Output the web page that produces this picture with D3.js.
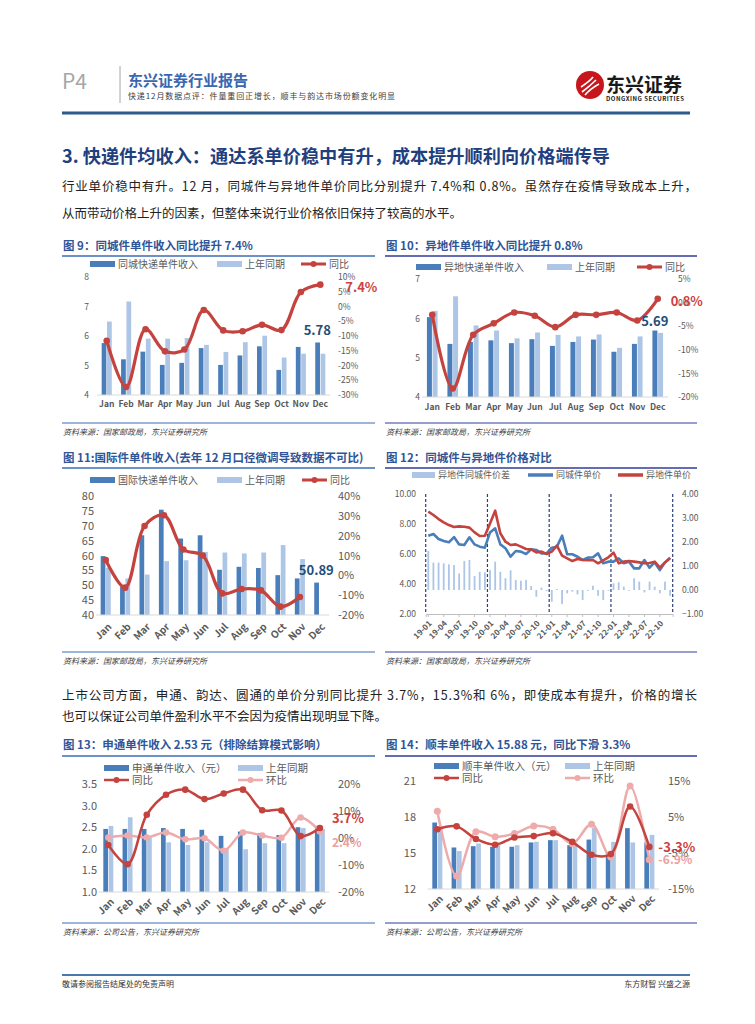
<!DOCTYPE html>
<html>
<head>
<meta charset="utf-8">
<script src="https://cdn.jsdelivr.net/npm/d3@7"></script>
<style>
body { margin: 0; background: #fff; }
svg { display: block; }
text { font-family: "Noto Sans CJK SC", "Noto Sans", sans-serif; }
</style>
</head>
<body>
<svg id="page" width="755" height="1024"></svg>
<script>
// ---- data ----
var months = ["Jan", "Feb", "Mar", "Apr", "May", "Jun", "Jul", "Aug", "Sep", "Oct", "Nov", "Dec"];

// fig 9 同城件
var c9Cur = [5.76, 5.21, 5.47, 5.02, 5.09, 5.59, 5.02, 5.34, 5.65, 4.85, 5.63, 5.78];
var c9Prev = [6.49, 7.17, 5.91, 5.91, 5.93, 5.70, 5.46, 5.79, 6.01, 5.27, 5.40, 5.40];
var c9Yoy = [-11.6, -27.3, -7.7, -15.2, -14.6, -1.2, -8.1, -8.4, -6.2, -8.0, 4.9, 7.4];

// fig 10 异地件
var c10Cur = [6.03, 5.35, 5.40, 5.44, 5.37, 5.47, 5.30, 5.40, 5.46, 5.15, 5.35, 5.69];
var c10Prev = [6.19, 6.56, 5.82, 5.69, 5.49, 5.64, 5.58, 5.54, 5.59, 5.25, 5.54, 5.63];
var c10Yoy = [-2.6, -18.2, -6.8, -4.4, -2.1, -2.8, -5.2, -2.6, -2.6, -2.1, -3.8, 0.8];

// fig 11 国际件
var c11Cur = [59.8, 49.5, 66.8, 75.4, 65.7, 66.8, 55.2, 56.2, 55.8, 53.4, 52.3, 50.89];
var c11Prev = [55.9, 52.3, 53.6, 58.1, 58.4, 61.2, 61.0, 60.7, 61.0, 63.5, 58.8, null];
var c11Yoy = [7.7, -6.2, 24.9, 30.3, 13.0, 10.0, -9.1, -6.9, -7.6, -15.8, -10.9, null];

// fig 12 同城件与异地件
var c12Periods = [
  "19-01", "19-02", "19-03", "19-04", "19-05", "19-06", "19-07", "19-08", "19-09", "19-10", "19-11", "19-12",
  "20-01", "20-02", "20-03", "20-04", "20-05", "20-06", "20-07", "20-08", "20-09", "20-10", "20-11", "20-12",
  "21-01", "21-02", "21-03", "21-04", "21-05", "21-06", "21-07", "21-08", "21-09", "21-10", "21-11", "21-12",
  "22-01", "22-02", "22-03", "22-04", "22-05", "22-06", "22-07", "22-08", "22-09", "22-10", "22-11", "22-12"];
var c12Ticks = ["19-01", "19-04", "19-07", "19-10", "20-01", "20-04", "20-07", "20-10",
  "21-01", "21-04", "21-07", "21-10", "22-01", "22-04", "22-07", "22-10"];
var c12YearStarts = ["19-01", "20-01", "21-01", "22-01"];
var c12Local = [7.22, 7.33, 7.00, 6.87, 6.78, 7.13, 6.64, 6.60, 7.11, 6.64, 6.49, 6.42,
  7.44, 7.71, 6.64, 6.38, 5.82, 6.20, 6.16, 6.00, 6.31, 6.27, 6.04, 6.04,
  6.42, 6.49, 7.22, 5.98, 5.98, 5.82, 5.60, 5.76, 5.78, 6.04, 5.38, 5.49,
  5.49, 5.71, 5.38, 5.49, 5.04, 5.04, 5.60, 5.09, 5.44, 4.93, 5.44, 5.76];
var c12Remote = [8.82, 8.60, 8.33, 8.11, 7.93, 7.80, 7.84, 7.82, 7.76, 7.44, 7.20, 7.22,
  8.04, 8.89, 7.38, 6.82, 6.60, 6.64, 6.49, 6.33, 6.31, 6.11, 6.16, 6.00,
  6.16, 6.56, 5.89, 5.71, 5.53, 5.67, 5.60, 5.58, 5.60, 5.38, 5.58, 5.78,
  6.09, 5.38, 5.49, 5.53, 5.49, 5.44, 5.38, 5.40, 5.49, 5.09, 5.44, 5.71];
var c12Gap = [1.63, 1.14, 1.14, 1.11, 1.07, 1.04, 0.69, 1.21, 1.25, 0.58, 0.76, 0.74,
  0.83, 1.18, 0.76, 0.49, 0.82, 0.42, 0.39, 0.42, 0.17, -0.28, 0.10, -0.04,
  -0.49, 0.04, -0.58, -0.14, -0.07, -0.18, -0.42, -0.04, 0.18, -0.24, -0.42, -0.03,
  0.28, 0.32, 0.14, -0.03, 0.49, 0.35, -0.10, 0.35, 0.14, -0.14, 0.35, -0.24];

// fig 13 申通
var c13Cur = [2.46, 2.46, 2.46, 2.48, 2.46, 2.44, 2.30, 2.40, 2.36, 2.32, 2.50, 2.53];
var c13Prev = [2.53, 2.73, 2.25, 2.15, 2.09, 2.15, 2.00, 1.99, 2.13, 2.13, 2.48, 2.46];
var c13Yoy = [-2.6, -9.7, 8.6, 16.0, 17.9, 14.4, 16.5, 17.9, 10.3, 10.2, 0.7, 3.7];
var c13Mom = [0.2, 0.9, 0.2, 2.0, -0.5, -0.1, -4.7, 2.0, 0.9, 0.1, 7.6, 2.4];

// fig 14 顺丰
var c14Cur = [17.54, 15.46, 15.57, 15.52, 15.52, 15.88, 16.07, 15.65, 16.12, 15.07, 17.07, 15.88];
var c14Prev = [17.12, 15.16, 15.79, 15.65, 15.65, 15.93, 16.07, 15.79, 17.09, 15.93, 15.88, 16.51];
var c14Yoy = [1.6, 2.4, -1.1, -2.7, -0.7, -0.3, 0.5, -1.9, -5.5, -5.3, 7.9, -3.3];
var c14Mom = [6.6, -11.4, 0.9, -0.5, 0.4, 2.5, 1.6, -2.4, 3.0, -6.1, 13.6, -6.9];

// ---- colours ----
var colDark = "#4a7ebb";
var colLight = "#adc6e6";
var colRed = "#c4433f";
var colPink = "#eeabab";
var colGrey = "#595959";
var numFont = "'Liberation Sans', Arial, sans-serif";

var svg = d3.select("#page");

// ---- page header ----
svg.append("text").attr("x", 62).attr("y", 89)
  .attr("font-family", numFont).attr("font-size", 21).attr("fill", "#a6a6a6").text("P4");
svg.append("line").attr("x1", 120).attr("x2", 120).attr("y1", 66).attr("y2", 103)
  .attr("stroke", "#a6a6a6").attr("stroke-width", 1);
svg.append("text").attr("x", 128).attr("y", 86).attr("font-size", 15).attr("font-weight", "bold")
  .attr("fill", "#3a67b0").text("东兴证券行业报告");
svg.append("text").attr("x", 128).attr("y", 99).attr("font-size", 8).attr("fill", "#404040")
  .attr("textLength", 267).attr("lengthAdjust", "spacing")
  .text("快递12月数据点评：件量重回正增长，顺丰与韵达市场份额变化明显");

// logo
var logo = svg.append("g").attr("transform", "translate(590,85)");
logo.append("circle").attr("r", 14).attr("fill", "#c8161d");
[[-9, 2, 3, -8], [-8, 7, 6, -5], [-5, 10, 9, -1]].forEach(function(p) {
  logo.append("path").attr("d", "M" + p[0] + "," + p[1] + " Q0," + (p[1] - 6) + " " + p[2] + "," + p[3])
    .attr("fill", "none").attr("stroke", "#fff").attr("stroke-width", 1.6);
});
svg.append("text").attr("x", 606).attr("y", 92).attr("font-size", 19).attr("font-weight", "bold")
  .attr("fill", "#1a1a1a").text("东兴证券");
svg.append("text").attr("x", 606).attr("y", 101).attr("font-family", numFont).attr("font-size", 6)
  .attr("font-weight", "bold").attr("fill", "#1a1a1a").attr("textLength", 78).text("DONGXING SECURITIES");

svg.append("line").attr("x1", 62).attr("x2", 690).attr("y1", 113).attr("y2", 113)
  .attr("stroke", "#2e5b8d").attr("stroke-width", 3);

// ---- heading & paragraphs ----
svg.append("text").attr("x", 62).attr("y", 163).attr("font-size", 18).attr("font-weight", "bold")
  .attr("fill", "#1f3f7f").attr("textLength", 548).attr("lengthAdjust", "spacingAndGlyphs")
  .text("3. 快递件均收入：通达系单价稳中有升，成本提升顺利向价格端传导");

function para(y, str, full) {
  var t = svg.append("text").attr("x", 62).attr("y", y).attr("font-size", 12.5).attr("fill", "#222").text(str);
  if (full) t.attr("textLength", 635).attr("lengthAdjust", "spacing");
}
para(191, "行业单价稳中有升。12 月，同城件与异地件单价同比分别提升 7.4%和 0.8%。虽然存在疫情导致成本上升，", true);
para(218, "从而带动价格上升的因素，但整体来说行业价格依旧保持了较高的水平。", false);
para(700, "上市公司方面，申通、韵达、圆通的单价分别同比提升 3.7%，15.3%和 6%，即使成本有提升，价格的增长", true);
para(721, "也可以保证公司单件盈利水平不会因为疫情出现明显下降。", false);

// ---- chart frames ----
function frame(x1, x2, title, ty, ly, by, src, lineCol) {
  svg.append("text").attr("x", x1 + 1).attr("y", ty).attr("font-size", 11.5).attr("font-weight", "bold")
    .attr("fill", "#2f5597").text(title);
  svg.append("line").attr("x1", x1).attr("x2", x2).attr("y1", ly).attr("y2", ly)
    .attr("stroke", lineCol).attr("stroke-width", 1.5);
  svg.append("line").attr("x1", x1).attr("x2", x2).attr("y1", by).attr("y2", by)
    .attr("stroke", lineCol).attr("stroke-width", 1.2);
  svg.append("text").attr("x", x1 + 1).attr("y", by + 12).attr("font-size", 8).attr("font-style", "italic")
    .attr("fill", "#404040").text(src);
}

function legend(items, fs) {
  items.forEach(function(it) {
    var w = it.w || 25;
    if (it.type === "bar") {
      svg.append("rect").attr("x", it.x).attr("y", it.y - 3).attr("width", w).attr("height", 6).attr("fill", it.color);
    } else {
      svg.append("line").attr("x1", it.x).attr("x2", it.x + w).attr("y1", it.y).attr("y2", it.y)
        .attr("stroke", it.color).attr("stroke-width", it.sw || 3);
      if (it.marker) svg.append("circle").attr("cx", it.x + w / 2).attr("cy", it.y).attr("r", 3).attr("fill", it.color);
    }
    svg.append("text").attr("x", it.x + w + 3).attr("y", it.y).attr("dy", "0.35em")
      .attr("font-size", fs).attr("fill", colGrey).text(it.label);
  });
}

// combo chart: two bar series on the left axis, lines on the right axis
function combo(o) {
  var g = svg.append("g");
  var x = d3.scaleBand().domain(months).range([o.x0, o.x1]).paddingInner(0.48).paddingOuter(0.24);
  var xi = d3.scaleBand().domain(["cur", "prev"]).range([0, x.bandwidth()]).paddingInner(0.12);
  var yL = d3.scaleLinear().domain(o.left).range([o.yB, o.yT]);
  var yR = d3.scaleLinear().domain(o.right).range([o.yB, o.yT]);
  var cx = function(m) { return x(m) + x.bandwidth() / 2; };

  [["cur", o.cur, colDark], ["prev", o.prev, colLight]].forEach(function(s) {
    var rows = months.map(function(m, i) { return {m: m, v: s[1][i]}; })
      .filter(function(d) { return d.v != null; });
    g.append("g").selectAll("rect").data(rows).enter().append("rect")
      .attr("x", function(d) { return x(d.m) + xi(s[0]); })
      .attr("width", xi.bandwidth())
      .attr("y", function(d) { return yL(d.v); })
      .attr("height", function(d) { return o.yB - yL(d.v); })
      .attr("fill", s[2]);
  });

  g.append("line").attr("x1", o.x0).attr("x2", o.x1).attr("y1", o.yB).attr("y2", o.yB)
    .attr("stroke", "#d9d9d9").attr("stroke-width", 1);

  var la = g.append("g").attr("transform", "translate(" + o.lx + ",0)")
    .call(d3.axisLeft(yL).tickValues(o.lt).tickFormat(o.lf).tickSize(0).tickPadding(0));
  la.select(".domain").remove();
  la.attr("font-family", numFont).attr("font-size", o.tfs);
  la.selectAll("text").attr("fill", colGrey);

  var ra = g.append("g").attr("transform", "translate(" + o.rx + ",0)")
    .call(d3.axisRight(yR).tickValues(o.rt).tickFormat(function(d) { return d + "%"; }).tickSize(0).tickPadding(0));
  ra.select(".domain").remove();
  ra.attr("font-family", numFont).attr("font-size", o.rfs || o.tfs);
  ra.selectAll("text").attr("fill", colGrey);

  var xa = g.append("g").attr("transform", "translate(0," + o.yB + ")")
    .call(d3.axisBottom(x).tickSize(0).tickPadding(o.xpad || 6));
  xa.select(".domain").remove();
  xa.attr("font-family", numFont).attr("font-size", o.xfs).attr("font-weight", "bold");
  xa.selectAll("text").attr("fill", colGrey);
  if (o.rot) {
    xa.selectAll("text").attr("y", 0).attr("dy", "0.35em").attr("text-anchor", "end")
      .attr("transform", "translate(" + o.rot[0] + "," + o.rot[1] + ") rotate(-45)");
  }

  o.lines.forEach(function(l) {
    var pts = months.map(function(m, i) { return {m: m, v: l.data[i]}; })
      .filter(function(d) { return d.v != null; });
    g.append("path").datum(pts).attr("fill", "none").attr("stroke", l.color).attr("stroke-width", l.sw || 3.2)
      .attr("d", d3.line().x(function(d) { return cx(d.m); }).y(function(d) { return yR(d.v); })
        .curve(d3.curveCatmullRom));
    g.append("g").selectAll("circle").data(pts).enter().append("circle")
      .attr("cx", function(d) { return cx(d.m); }).attr("cy", function(d) { return yR(d.v); })
      .attr("r", l.r || 3.3).attr("fill", l.color);
  });

  (o.notes || []).forEach(function(n) {
    var sc = n.axis === "L" ? yL : yR;
    g.append("text").attr("x", cx(n.m) + n.dx).attr("y", sc(n.v) + n.dy)
      .attr("text-anchor", n.anchor || "start").attr("font-family", numFont)
      .attr("font-size", n.fs || 13).attr("font-weight", "bold").attr("fill", n.color).text(n.text);
  });
}

// ---- figure 9 ----
frame(62, 375, "图 9：同城件单件收入同比提升 7.4%", 250, 256, 423, "资料来源：国家邮政局，东兴证券研究所", "#3b6db3");
legend([
  {type: "bar", x: 90, y: 264, color: colDark, label: "同城快递单件收入"},
  {type: "bar", x: 217, y: 264, color: colLight, label: "上年同期"},
  {type: "line", x: 301, y: 264, color: colRed, marker: true, label: "同比"}
], 10);
combo({
  x0: 97, x1: 330, yT: 277, yB: 395,
  left: [4, 8], lt: [4, 5, 6, 7, 8], lf: d3.format("d"), lx: 89,
  right: [-30, 10], rt: [-30, -25, -20, -15, -10, -5, 0, 5, 10], rx: 338,
  tfs: 8.5, xfs: 8.5, xpad: 6,
  cur: c9Cur, prev: c9Prev,
  lines: [{data: c9Yoy, color: colRed}],
  notes: [
    {m: "Dec", axis: "R", v: c9Yoy[11], dx: 25, dy: 7, text: "7.4%", color: "#d04040"},
    {m: "Dec", axis: "L", v: c9Cur[11], dx: -3, dy: -7, anchor: "middle", text: "5.78", color: "#1f4e79"}
  ]
});

// ---- figure 10 ----
frame(385, 697, "图 10：异地件单件收入同比提升 0.8%", 250, 256, 423, "资料来源：国家邮政局，东兴证券研究所", "#303c9a");
legend([
  {type: "bar", x: 416, y: 267, color: colDark, label: "异地快递单件收入"},
  {type: "bar", x: 547, y: 267, color: colLight, label: "上年同期"},
  {type: "line", x: 637, y: 267, color: colRed, marker: true, label: "同比"}
], 10);
combo({
  x0: 422, x1: 668, yT: 279, yB: 397,
  left: [4, 7], lt: [4, 5, 6, 7], lf: d3.format("d"), lx: 420,
  right: [-20, 5], rt: [-20, -15, -10, -5, 0, 5], rx: 678,
  tfs: 8.5, xfs: 8.5, xpad: 7,
  cur: c10Cur, prev: c10Prev,
  lines: [{data: c10Yoy, color: colRed}],
  notes: [
    {m: "Dec", axis: "R", v: c10Yoy[11], dx: 13, dy: 7, text: "0.8%", color: "#d04040"},
    {m: "Dec", axis: "L", v: c10Cur[11], dx: -3, dy: -5, anchor: "middle", text: "5.69", color: "#1f4e79"}
  ]
});

// ---- figure 11 ----
frame(62, 375, "图 11:国际件单件收入(去年 12 月口径微调导致数据不可比)", 462, 468, 652, "资料来源：国家邮政局，东兴证券研究所", "#3b6db3");
legend([
  {type: "bar", x: 90, y: 480, color: colDark, label: "国际快递单件收入"},
  {type: "bar", x: 217, y: 480, color: colLight, label: "上年同期"},
  {type: "line", x: 302, y: 480, color: colRed, marker: true, label: "同比"}
], 10);
combo({
  x0: 96, x1: 329, yT: 496, yB: 615,
  left: [40, 80], lt: [40, 45, 50, 55, 60, 65, 70, 75, 80], lf: d3.format("d"), lx: 94,
  right: [-20, 40], rt: [-20, -10, 0, 10, 20, 30, 40], rx: 338,
  tfs: 11, xfs: 10, rot: [4, 10],
  cur: c11Cur, prev: c11Prev,
  lines: [{data: c11Yoy, color: colRed}],
  notes: [
    {m: "Dec", axis: "L", v: c11Cur[11], dx: -3, dy: -8, anchor: "middle", text: "50.89", color: "#1f4e79"}
  ]
});

// ---- figure 12 ----
frame(385, 697, "图 12：同城件与异地件价格对比", 462, 468, 652, "资料来源：国家邮政局，东兴证券研究所", "#303c9a");
legend([
  {type: "bar", x: 412, y: 475, w: 23, color: colLight, label: "异地件同城件价差"},
  {type: "line", x: 528, y: 475, color: colDark, sw: 3.5, label: "同城件单价"},
  {type: "line", x: 618, y: 475, color: colRed, sw: 3.5, label: "异地件单价"}
], 9);
(function() {
  var g = svg.append("g");
  var x0 = 425.7, x1 = 672.7, yT = 494, yB = 614;
  var x = d3.scaleBand().domain(c12Periods).range([x0, x1]);
  var cx = function(p) { return x(p) + x.bandwidth() / 2; };
  var yL = d3.scaleLinear().domain([2, 10]).range([yB, yT]);
  var yR = d3.scaleLinear().domain([-1, 4]).range([yB, yT]);

  g.append("g").selectAll("rect").data(c12Periods).enter().append("rect")
    .attr("x", function(p) { return cx(p) - 0.9; })
    .attr("width", 1.8)
    .attr("y", function(p, i) { return yR(Math.max(0, c12Gap[i])); })
    .attr("height", function(p, i) { return Math.abs(yR(c12Gap[i]) - yR(0)); })
    .attr("fill", colLight);

  var marks = c12YearStarts.map(function(p) { return x(p); }).concat([x1]);
  g.append("g").selectAll("line").data(marks).enter().append("line")
    .attr("x1", function(d) { return d; }).attr("x2", function(d) { return d; })
    .attr("y1", yT).attr("y2", yB)
    .attr("stroke", "#2a3f7a").attr("stroke-width", 1.2).attr("stroke-dasharray", "3,2");

  var xa = g.append("g").attr("transform", "translate(0," + yB + ")")
    .call(d3.axisBottom(x).tickValues(c12Ticks).tickSize(3).tickPadding(0));
  xa.select(".domain").attr("stroke", "#bfbfbf");
  xa.selectAll(".tick line").attr("stroke", "#bfbfbf");
  xa.attr("font-family", numFont).attr("font-size", 8).attr("font-weight", "bold");
  xa.selectAll("text").attr("fill", colGrey).attr("y", 0).attr("dy", "0.35em").attr("text-anchor", "end")
    .attr("transform", "translate(2,8) rotate(-45)");

  var la = g.append("g").attr("transform", "translate(416,0)")
    .call(d3.axisLeft(yL).tickValues([2, 4, 6, 8, 10]).tickFormat(d3.format(".2f")).tickSize(0).tickPadding(0));
  la.select(".domain").remove();
  la.attr("font-family", numFont).attr("font-size", 8.5);
  la.selectAll("text").attr("fill", colGrey);
  var ra = g.append("g").attr("transform", "translate(682,0)")
    .call(d3.axisRight(yR).tickValues([-1, 0, 1, 2, 3, 4]).tickFormat(d3.format(".2f")).tickSize(0).tickPadding(0));
  ra.select(".domain").remove();
  ra.attr("font-family", numFont).attr("font-size", 8.5);
  ra.selectAll("text").attr("fill", colGrey);

  [[c12Local, colDark], [c12Remote, colRed]].forEach(function(s) {
    g.append("path").datum(s[0]).attr("fill", "none").attr("stroke", s[1]).attr("stroke-width", 2.6)
      .attr("stroke-linejoin", "round")
      .attr("d", d3.line().x(function(d, i) { return cx(c12Periods[i]); }).y(function(d) { return yL(d); }));
  });
})();

// ---- figure 13 ----
frame(62, 375, "图 13：申通单件收入 2.53 元（排除结算模式影响）", 749, 756, 923, "资料来源：公司公告，东兴证券研究所", "#3b6db3");
legend([
  {type: "bar", x: 104, y: 768, color: colDark, label: "申通单件收入（元）"},
  {type: "bar", x: 238, y: 768, color: colLight, label: "上年同期"},
  {type: "line", x: 104, y: 780, color: colRed, marker: true, sw: 2.5, label: "同比"},
  {type: "line", x: 238, y: 780, color: colPink, marker: true, sw: 2.5, label: "环比"}
], 10.5);
combo({
  x0: 98.7, x1: 329.5, yT: 784, yB: 892,
  left: [1, 3.5], lt: [1, 1.5, 2, 2.5, 3, 3.5], lf: d3.format(".1f"), lx: 97,
  right: [-20, 20], rt: [-20, -10, 0, 10, 20], rx: 338,
  tfs: 11, xfs: 10, rot: [4, 8],
  cur: c13Cur, prev: c13Prev,
  lines: [{data: c13Mom, color: colPink, sw: 2.5, r: 3.3}, {data: c13Yoy, color: colRed, sw: 2.5, r: 3.3}],
  notes: [
    {m: "Dec", axis: "R", v: c13Yoy[11], dx: 12, dy: -5, text: "3.7%", color: "#d04040"},
    {m: "Dec", axis: "R", v: c13Mom[11], dx: 12, dy: 15, fs: 12, text: "2.4%", color: "#eca0a0"}
  ]
});

// ---- figure 14 ----
frame(385, 697, "图 14：顺丰单件收入 15.88 元，同比下滑 3.3%", 749, 756, 923, "资料来源：公司公告，东兴证券研究所", "#303c9a");
legend([
  {type: "bar", x: 434, y: 766, color: colDark, label: "顺丰单件收入（元）"},
  {type: "bar", x: 565, y: 766, color: colLight, label: "上年同期"},
  {type: "line", x: 434, y: 778, color: colRed, marker: true, sw: 2.5, label: "同比"},
  {type: "line", x: 565, y: 778, color: colPink, marker: true, sw: 2.5, label: "环比"}
], 10.5);
combo({
  x0: 427.7, x1: 659, yT: 781, yB: 889,
  left: [12, 21], lt: [12, 15, 18, 21], lf: d3.format("d"), lx: 416,
  right: [-15, 15], rt: [-15, -5, 5, 15], rx: 668,
  tfs: 11, xfs: 10, rot: [4, 8],
  cur: c14Cur, prev: c14Prev,
  lines: [{data: c14Mom, color: colPink, sw: 2.5, r: 3.5}, {data: c14Yoy, color: colRed, sw: 2.5, r: 3.3}],
  notes: [
    {m: "Dec", axis: "R", v: c14Yoy[11], dx: 9, dy: 5, text: "-3.3%", color: "#d04040"},
    {m: "Dec", axis: "R", v: c14Mom[11], dx: 9, dy: 4, fs: 12, text: "-6.9%", color: "#eca0a0"}
  ]
});

// ---- footer ----
svg.append("line").attr("x1", 62).attr("x2", 690).attr("y1", 975).attr("y2", 975)
  .attr("stroke", "#4a78aa").attr("stroke-width", 2);
svg.append("text").attr("x", 62).attr("y", 987).attr("font-size", 8).attr("fill", "#333").text("敬请参阅报告结尾处的免责声明");
svg.append("text").attr("x", 690).attr("y", 987).attr("text-anchor", "end").attr("font-size", 8).attr("fill", "#333").text("东方财智 兴盛之源");
</script>
</body>
</html>
